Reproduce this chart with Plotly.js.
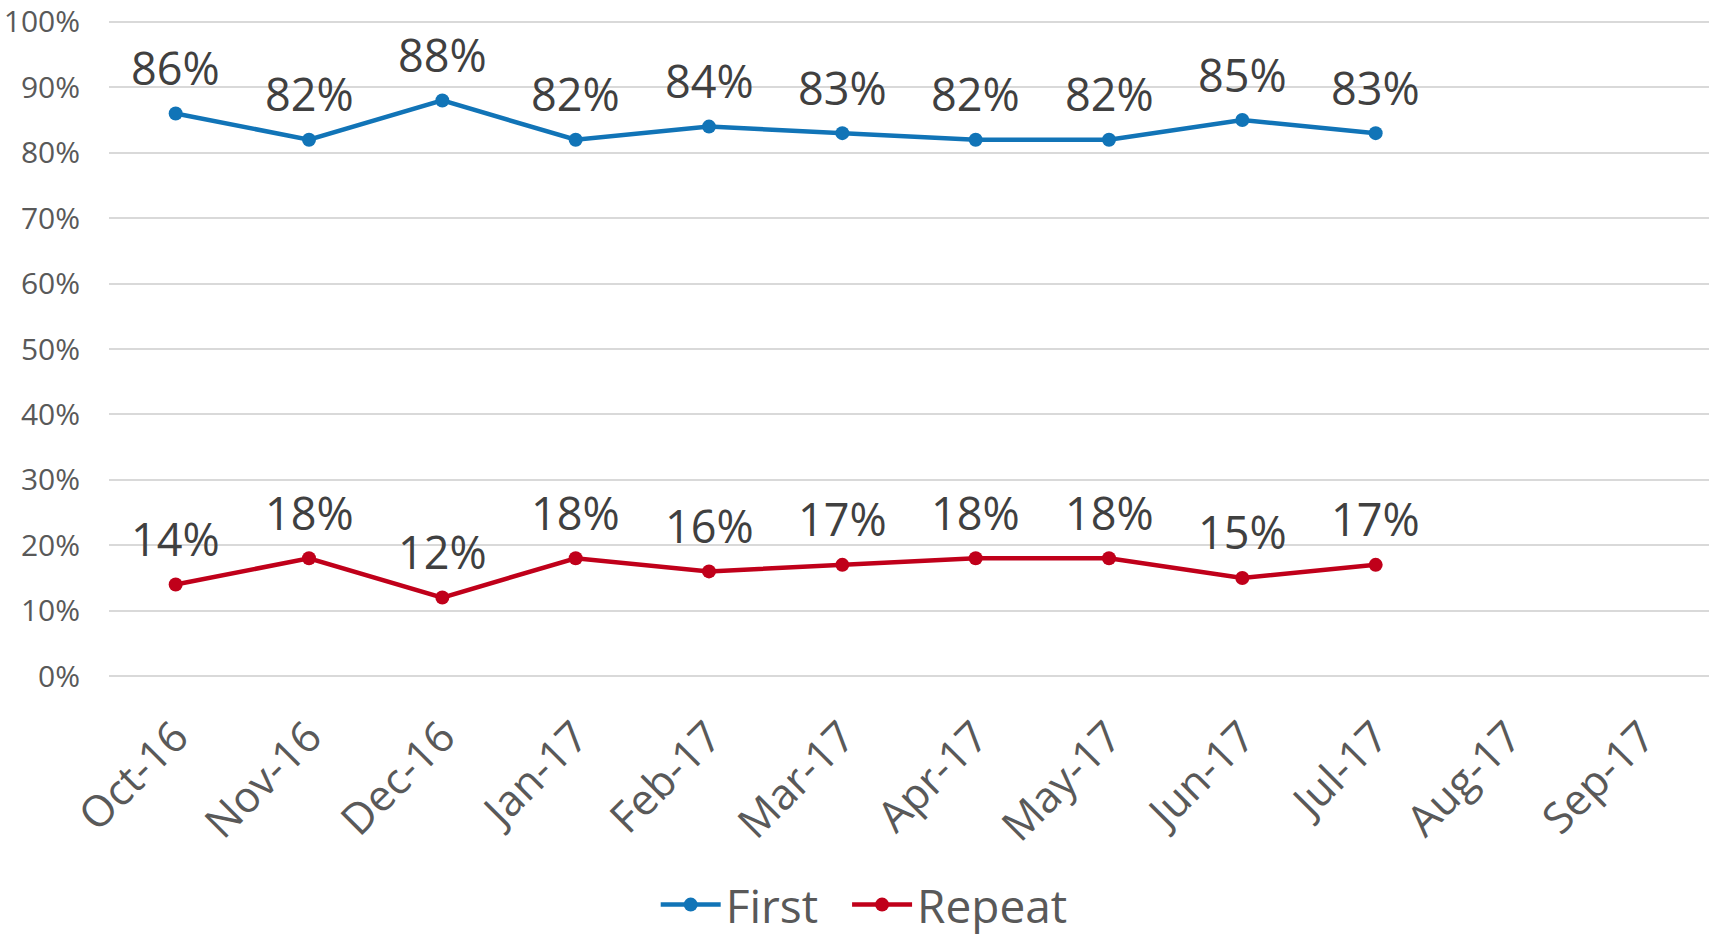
<!DOCTYPE html>
<html>
<head>
<meta charset="utf-8">
<script src="https://cdn.plot.ly/plotly-3.0.1.min.js"></script>
<style>html,body{margin:0;padding:0;background:#fff;}#chart{width:1710px;height:939px;}</style>
</head>
<body>
<div id="chart"></div>
<script>
const months = ["Oct-16","Nov-16","Dec-16","Jan-17","Feb-17","Mar-17","Apr-17","May-17","Jun-17","Jul-17","Aug-17","Sep-17"];
const firstVals = [0.86,0.82,0.88,0.82,0.84,0.83,0.82,0.82,0.85,0.83,null,null];
const repeatVals = [0.14,0.18,0.12,0.18,0.16,0.17,0.18,0.18,0.15,0.17,null,null];
const yTicks = [0,0.1,0.2,0.3,0.4,0.5,0.6,0.7,0.8,0.9,1.0];
const yTickText = ["0%","10%","20%","30%","40%","50%","60%","70%","80%","90%","100%"];

const FONT = "'Open Sans', 'Noto Sans', sans-serif";
const series = [
  {name:'First', vals:firstVals, color:'#1174B7', pad:'\u00a0\u00a0'},
  {name:'Repeat', vals:repeatVals, color:'#C0001A', pad:''}
];
const data = series.map(s => ({
  type:'scatter', mode:'lines+markers', name:s.name + s.pad,
  x: months, y: s.vals,
  line:{color:s.color, width:4.5},
  marker:{color:s.color, size:14},
  cliponaxis:false, hoverinfo:'skip'
}));
const annotations = [];
series.forEach(s => {
  s.vals.forEach((v, i) => {
    if (v == null) return;
    annotations.push({
      x: months[i], y: v, xref:'x', yref:'y',
      text: Math.round(v*100) + '%', showarrow:false,
      xanchor:'center', yanchor:'middle', yshift:46,
      font:{family:FONT, size:45, color:'#404040'}
    });
  });
});
const layout = {
  width:1710, height:939,
  margin:{l:109, r:1, t:20, b:261, autoexpand:false},
  paper_bgcolor:'#fff', plot_bgcolor:'#fff',
  font:{family:FONT, color:'#595959'},
  showlegend:true,
  legend:{orientation:'h', x:0.472, xanchor:'center', y:-0.4, yanchor:'bottom',
          font:{family:FONT, size:46, color:'#595959'}, itemwidth:60, tracegroupgap:0},
  annotations: annotations,
  xaxis:{type:'category', categoryorder:'array', categoryarray:months, range:[-0.5,11.5],
         showgrid:false, zeroline:false, showline:false, ticks:'', automargin:false,
         tickangle:-45, tickfont:{family:FONT, size:43, color:'#595959'}, ticklabelstandoff:24, fixedrange:true},
  yaxis:{range:[-0.003,1.003], tickmode:'array', tickvals:yTicks, ticktext:yTickText, showgrid:true, gridcolor:'#D9D9D9', gridwidth:2,
         zeroline:false, showline:false, ticks:'', automargin:false, ticklabeloverflow:'allow',
         tickfont:{family:FONT, size:30, color:'#595959'}, ticklabelstandoff:28, fixedrange:true}
};
Plotly.newPlot('chart', data, layout, {displayModeBar:false, staticPlot:true});
</script>
</body>
</html>
